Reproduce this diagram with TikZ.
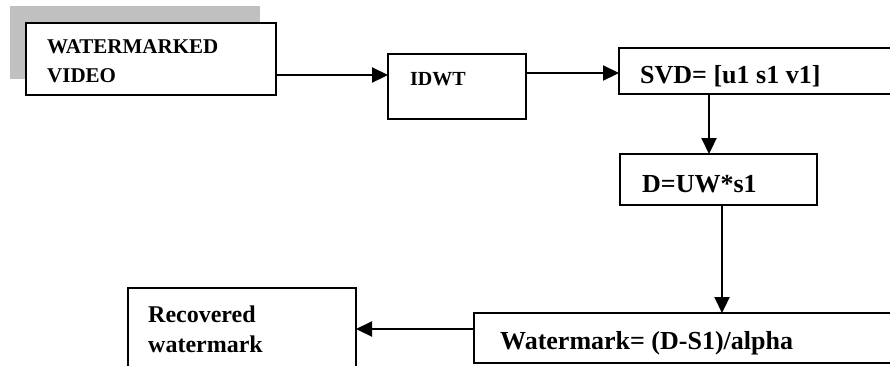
\documentclass[tikz,border=0pt]{standalone}
\usepackage{fontspec}
\setmainfont{Liberation Serif}
\usetikzlibrary{arrows.meta}
\definecolor{shadowgray}{RGB}{192,192,192}
\begin{document}
\begin{tikzpicture}[x=1pt,y=-1pt,
  box/.style={draw=black, line width=2pt, fill=white, rectangle, inner sep=0pt, outer sep=0pt},
  txt/.style={anchor=base west, inner sep=0pt, font=\bfseries},
  arr/.style={line width=2.2pt, -{Triangle[length=16pt,width=15pt]}}]
\useasboundingbox (0,0) rectangle (890,365);
\clip (0,0) rectangle (890,365);
\fill[white] (0,0) rectangle (890,365);
% shadow
\fill[shadowgray] (10,6) rectangle (260,79);
% boxes
\node[box, minimum width=250pt, minimum height=72pt] (wv) at (151,59) {};
\node[box, minimum width=138pt, minimum height=65pt] (idwt) at (457,86.5) {};
\node[box, minimum width=275pt, minimum height=46pt] (svd) at (756.5,71) {};
\node[box, minimum width=197pt, minimum height=51pt] (d) at (718.5,179.5) {};
\node[box, minimum width=420pt, minimum height=50pt] (wm) at (684,338) {};
\node[box, minimum width=228pt, minimum height=100pt] (rec) at (242,338) {};
% texts
\node[txt, font=\bfseries\fontsize{21}{25}\selectfont] (t1) at (47,53) {WATERMARKED};
\node[txt, font=\bfseries\fontsize{21}{25}\selectfont] (t2) at (47,82) {VIDEO};
\node[txt, font=\bfseries\fontsize{20}{24}\selectfont] (t3) at (410,85) {IDWT};
\node[txt, font=\bfseries\fontsize{26}{30}\selectfont] (t4) at (640,83) {SVD= [u1 s1 v1]};
\node[txt, font=\bfseries\fontsize{26}{30}\selectfont] (t5) at (642,192) {D=UW*s1};
\node[txt, font=\bfseries\fontsize{26}{30}\selectfont] (t6) at (500,349) {Watermark= (D-S1)/alpha};
\node[txt, font=\bfseries\fontsize{24}{28}\selectfont] (t7) at (148,322) {Recovered};
\node[txt, font=\bfseries\fontsize{24}{28}\selectfont] (t8) at (148,352) {watermark};
% connector guides
\coordinate (a1) at (0,75);
\coordinate (a2) at (0,73);
\coordinate (a3) at (709,0);
\coordinate (a4) at (722,0);
\coordinate (a5) at (0,329);
% connectors
\draw[arr] (wv.east |- a1) -- (idwt.west |- a1);
\draw[arr] (idwt.east |- a2) -- (svd.west |- a2);
\draw[arr] (svd.south -| a3) -- (d.north -| a3);
\draw[arr] (d.south -| a4) -- (wm.north -| a4);
\draw[arr] (wm.west |- a5) -- (rec.east |- a5);
\end{tikzpicture}
\end{document}
